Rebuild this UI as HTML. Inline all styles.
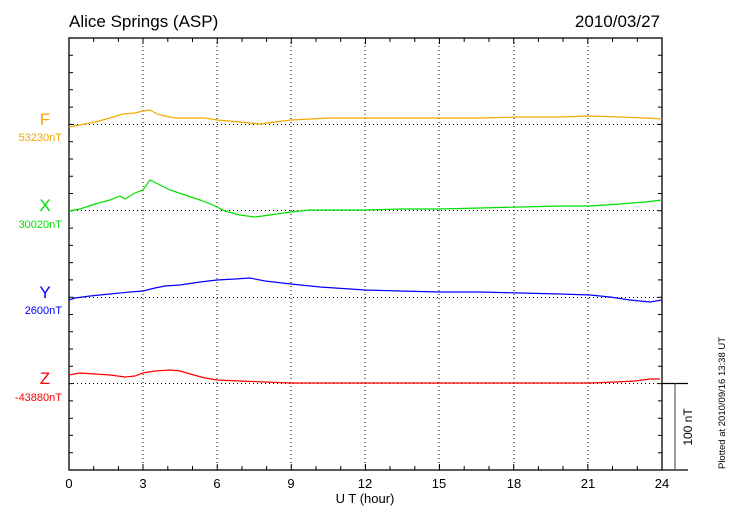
<!DOCTYPE html>
<html><head><meta charset="utf-8"><style>body{margin:0;background:#fff}svg{display:block;font-family:"Liberation Sans",sans-serif}</style></head><body>
<svg width="730" height="520" viewBox="0 0 730 520">
<text x="69" y="27" font-size="17">Alice Springs (ASP)</text>
<text x="660" y="27" font-size="17" text-anchor="end">2010/03/27</text>
<g stroke="#000" stroke-width="1" stroke-dasharray="1,3">
<line x1="143" y1="38" x2="143" y2="470"/><line x1="217" y1="38" x2="217" y2="470"/><line x1="291" y1="38" x2="291" y2="470"/><line x1="365" y1="38" x2="365" y2="470"/><line x1="439" y1="38" x2="439" y2="470"/><line x1="514" y1="38" x2="514" y2="470"/><line x1="588" y1="38" x2="588" y2="470"/>
<line x1="69" y1="124.5" x2="662" y2="124.5"/><line x1="69" y1="210.5" x2="662" y2="210.5"/><line x1="69" y1="297.5" x2="662" y2="297.5"/>
</g>
<g fill="none" stroke="#000" stroke-width="1.3">
<rect x="69" y="38" width="593" height="432"/>
<line x1="662" y1="383.5" x2="688" y2="383.5"/><line x1="662" y1="470" x2="688" y2="470"/><line x1="675" y1="383.5" x2="675" y2="470" stroke="#666"/>
<line x1="69" y1="383.5" x2="662" y2="383.5" stroke-dasharray="1,3" stroke-width="1"/>
</g>
<g stroke="#000" stroke-width="1">
<path d="M69 55.3h4M69 72.6h4M69 89.8h4M69 107.1h4M69 124.4h4M69 141.7h4M69 159h4M69 176.2h4M69 193.5h4M69 210.8h4M69 228.1h4M69 245.4h4M69 262.6h4M69 279.9h4M69 297.2h4M69 314.5h4M69 331.8h4M69 349h4M69 366.3h4M69 383.6h4M69 400.9h4M69 418.2h4M69 435.4h4M69 452.7h4"/>
<path d="M662 55.3h-4M662 72.6h-4M662 89.8h-4M662 107.1h-4M662 124.4h-4M662 141.7h-4M662 159h-4M662 176.2h-4M662 193.5h-4M662 210.8h-4M662 228.1h-4M662 245.4h-4M662 262.6h-4M662 279.9h-4M662 297.2h-4M662 314.5h-4M662 331.8h-4M662 349h-4M662 366.3h-4M662 383.6h-4M662 400.9h-4M662 418.2h-4M662 435.4h-4M662 452.7h-4"/>
<path d="M93.7 470v-4M118.4 470v-4M143 470v-6M167.8 470v-4M192.5 470v-4M217.3 470v-6M242 470v-4M266.6 470v-4M291.3 470v-6M316 470v-4M340.7 470v-4M365.5 470v-6M390 470v-4M414.8 470v-4M439.5 470v-6M464.2 470v-4M489 470v-4M513.7 470v-6M538.4 470v-4M563 470v-4M587.8 470v-6M612.5 470v-4M637.3 470v-4"/>
<path d="M93.7 38v4M118.4 38v4M143 38v6M167.8 38v4M192.5 38v4M217.3 38v6M242 38v4M266.6 38v4M291.3 38v6M316 38v4M340.7 38v4M365.5 38v6M390 38v4M414.8 38v4M439.5 38v6M464.2 38v4M489 38v4M513.7 38v6M538.4 38v4M563 38v4M587.8 38v6M612.5 38v4M637.3 38v4"/>
</g>
<g font-size="13" text-anchor="middle">
<text x="69" y="488">0</text><text x="143" y="488">3</text><text x="217" y="488">6</text><text x="291" y="488">9</text><text x="365" y="488">12</text><text x="439" y="488">15</text><text x="514" y="488">18</text><text x="588" y="488">21</text><text x="662" y="488">24</text>
<text x="365" y="503">U T (hour)</text>
</g>
<text transform="translate(692,427) rotate(-90)" font-size="12" text-anchor="middle">100 nT</text>
<text transform="translate(725,403) rotate(-90)" font-size="9.5" text-anchor="middle">Plotted at 2010/09/16 13:38 UT</text>
<g font-size="11" text-anchor="end">
<text x="45" y="125" font-size="17" fill="#f5a800" text-anchor="middle">F</text><text x="62" y="141" fill="#f5a800">53230nT</text>
<text x="45" y="211" font-size="17" fill="#00e000" text-anchor="middle">X</text><text x="62" y="228" fill="#00e000">30020nT</text>
<text x="45" y="298" font-size="17" fill="#0000ff" text-anchor="middle">Y</text><text x="62" y="314" fill="#0000ff">2600nT</text>
<text x="45" y="384" font-size="17" fill="#ff0000" text-anchor="middle">Z</text><text x="62" y="401" fill="#ff0000">-43880nT</text>
</g>
<g fill="none" stroke-width="1.2">
<polyline stroke="#f5a800" points="69,127 80,125 95,122 110,118 123,114 135,113 143,111 150,110 157,114 165,116 175,118 195,118 205,118 217,120 240,122 260,124 275,122 291,120 310,119 330,118 365,118 400,118 440,118 480,118 520,117 560,117 590,116 620,117 645,118 662,119"/>
<polyline stroke="#00e000" points="69,211 80,209 95,204 110,200 120,196 125,199 135,193 143,190 150,180 158,184 170,190 185,195 200,200 213,205 225,211 240,215 255,217 270,215 291,212 310,210 330,210 365,210 400,209 440,209 480,208 520,207 560,206 590,206 620,204 645,202 662,200"/>
<polyline stroke="#0000ff" points="69,300 75,298 90,296 110,294 130,292 143,291 155,288 165,286 180,285 200,282 217,280 235,279 250,278 265,281 291,284 320,287 365,290 400,291 440,292 480,292 520,293 560,294 590,295 610,297 630,300 650,302 662,300"/>
<polyline stroke="#ff0000" points="69,375 80,373 95,374 110,375 125,377 135,376 143,373 155,371 170,370 180,371 190,374 205,378 217,380 240,381 265,382 291,383 330,383 365,383 400,383 440,383 480,383 520,383 560,383 590,383 615,382 635,381 650,379 660,379"/>
</g>
</svg>
</body></html>
